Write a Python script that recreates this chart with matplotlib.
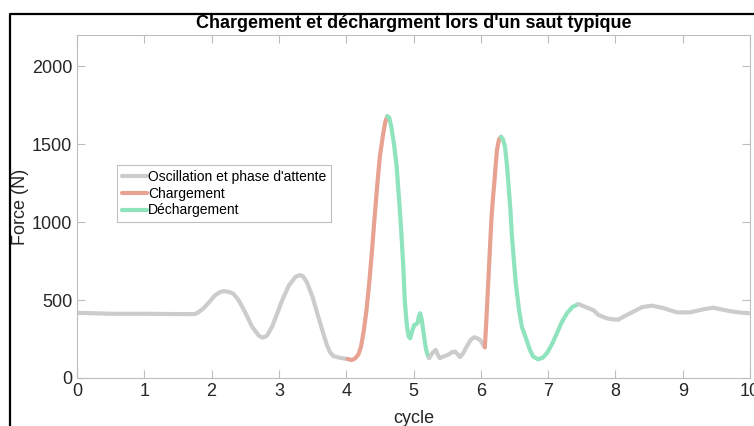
import matplotlib
matplotlib.use("Agg")
import matplotlib.pyplot as plt
from matplotlib.lines import Line2D

plt.rcParams['font.family'] = ['Liberation Sans', 'DejaVu Sans']

# ---- data ----
gray1_x = [0, 0.5, 1.0, 1.5, 1.75, 1.8, 1.88, 1.95, 2.05, 2.12, 2.18, 2.25, 2.32, 2.4, 2.5, 2.6,
           2.7, 2.76, 2.82, 2.9, 2.98, 3.05, 3.15, 3.25, 3.31, 3.36, 3.42, 3.5, 3.58, 3.65, 3.71,
           3.76, 3.81, 3.9, 3.96, 4.02]
gray1_y = [418, 412, 412, 410, 410, 420, 447, 480, 530, 550, 557, 553, 542, 500, 420, 330,
           272, 259, 270, 330, 420, 500, 595, 650, 660, 652, 610, 520, 400, 300, 215,
           165, 141, 130, 126, 122]

red1_x = [4.02, 4.08, 4.13, 4.18, 4.22, 4.26, 4.30, 4.34, 4.38, 4.42, 4.46, 4.50, 4.55, 4.58, 4.61]
red1_y = [122, 115, 125, 150, 200, 300, 430, 600, 800, 1020, 1230, 1420, 1568, 1640, 1679]

green1_x = [4.61, 4.64, 4.67, 4.71, 4.75, 4.79, 4.82, 4.85, 4.87, 4.89, 4.91, 4.93, 4.95, 4.98,
            5.01, 5.04, 5.06, 5.08, 5.10, 5.12, 5.15, 5.18, 5.20, 5.23]
green1_y = [1679, 1670, 1611, 1500, 1355, 1120, 927, 700, 500, 390, 308, 265, 254, 300,
            340, 345, 352, 395, 415, 380, 288, 200, 160, 128]

gray2_x = [5.23, 5.28, 5.33, 5.36, 5.39, 5.46, 5.52, 5.57, 5.62, 5.66, 5.69, 5.74, 5.79, 5.85,
           5.90, 5.95, 5.99, 6.06]
gray2_y = [128, 160, 180, 150, 128, 140, 150, 165, 169, 150, 134, 160, 201, 245,
           261, 255, 244, 197]

red2_x = [6.06, 6.08, 6.11, 6.14, 6.16, 6.18, 6.20, 6.22, 6.24, 6.27, 6.30]
red2_y = [197, 350, 607, 870, 1034, 1150, 1248, 1360, 1461, 1530, 1547]

green2_x = [6.30, 6.33, 6.36, 6.39, 6.41, 6.44, 6.46, 6.49, 6.52, 6.57, 6.61, 6.65, 6.68, 6.73,
            6.78, 6.85, 6.92, 6.98, 7.05, 7.13, 7.20, 7.28, 7.36, 7.45]
green2_y = [1547, 1530, 1483, 1360, 1248, 1080, 927, 760, 607, 430, 329, 280, 244, 180,
            137, 120, 130, 158, 210, 286, 355, 415, 455, 474]

gray3_x = [7.45, 7.57, 7.67, 7.75, 7.87, 7.96, 8.04, 8.15, 8.27, 8.4, 8.54, 8.71, 8.91, 9.11,
           9.3, 9.45, 9.6, 9.70, 9.85, 10.0]
gray3_y = [474, 453, 436, 404, 383, 376, 374, 400, 426, 455, 464, 449, 421, 421,
           440, 451, 438, 429, 420, 415]

x_ticks = [0, 1, 2, 3, 4, 5, 6, 7, 8, 9, 10]
y_ticks = [0, 500, 1000, 1500, 2000]

labels = ["Oscillation et phase d'attente", "Chargement", "Déchargement"]
title = "Chargement et déchargment lors d'un saut typique"

c_gray = '#cccccc'
c_red = '#e8a292'
c_green = '#8fe3bd'

fig = plt.figure(figsize=(7.54, 4.26), dpi=100)
ax = fig.add_axes([77 / 754, 1 - 378 / 426, (750 - 77) / 754, (378 - 35) / 426])

lw = 3.0
kw = dict(lw=lw, solid_capstyle='round', solid_joinstyle='round')
ax.plot(gray1_x, gray1_y, color=c_gray, label=labels[0], **kw)
ax.plot(red1_x, red1_y, color=c_red, label=labels[1], **kw)
ax.plot(green1_x, green1_y, color=c_green, label=labels[2], **kw)
ax.plot(gray2_x, gray2_y, color=c_gray, **kw)
ax.plot(red2_x, red2_y, color=c_red, **kw)
ax.plot(green2_x, green2_y, color=c_green, **kw)
ax.plot(gray3_x, gray3_y, color=c_gray, **kw)

ax.set_xlim(0, 10)
ax.set_ylim(0, 2200)
ax.set_xticks(x_ticks)
ax.set_yticks(y_ticks)
ax.tick_params(direction='in', length=6, color='#bdbdbd', labelcolor='#262626',
               labelsize=13, top=True, right=True, width=0.8)
for s in ax.spines.values():
    s.set_color('#bdbdbd')
    s.set_linewidth(0.8)

ax.set_xlabel('cycle', fontsize=13, color='#262626', labelpad=7)
ax.set_ylabel('Force (N)', fontsize=13, color='#262626', labelpad=2)
ax.set_title(title, fontsize=13, fontweight='bold', color='#000000', pad=5)

leg = ax.legend(loc='upper left', bbox_to_anchor=((117 - 77) / 673, (378 - 165) / 343),
                borderaxespad=0, fontsize=10, frameon=True, fancybox=False,
                edgecolor='#b0b0b0', handlelength=1.8, handletextpad=0.1,
                labelspacing=0.2, borderpad=0.35)
leg.get_frame().set_linewidth(0.8)

# black window frame
fig.add_artist(Line2D([10 / 754, 10 / 754, 1.2], [-0.2, 1 - 14 / 426, 1 - 14 / 426],
                      transform=fig.transFigure, color='black', lw=1.6))

fig.savefig('out.png', dpi=100)
